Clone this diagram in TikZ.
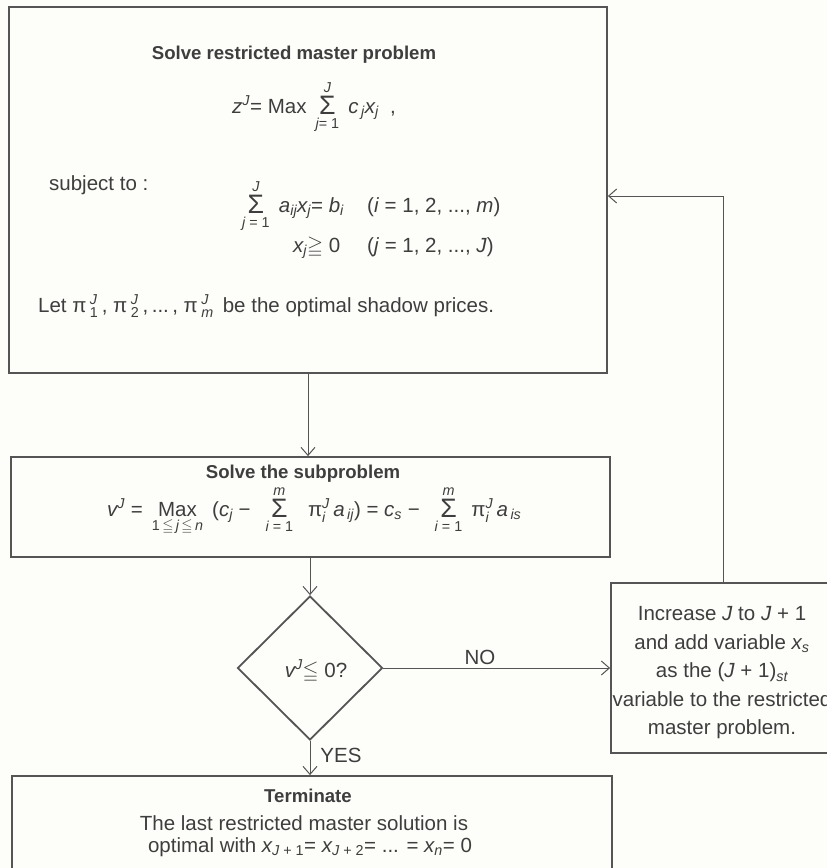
\documentclass[tikz,border=0pt]{standalone}
\usepackage{fontspec}
\setmainfont{Liberation Sans}
\usepackage{amsmath,amssymb,graphicx}
\usetikzlibrary{shapes.geometric,arrows.meta}
\definecolor{ink}{RGB}{62,62,62}
\definecolor{edge}{RGB}{85,85,85}
\definecolor{paper}{RGB}{253,253,250}
\newcommand{\iv}[1]{\text{\itshape #1}}
\newcommand{\tx}[1]{\text{#1}}
\newcommand{\Sm}[2]{\mathop{\raisebox{-1.5pt}{\scalebox{1.3}{Σ}}}\limits_{#1}^{#2}}
\begin{document}
\begin{tikzpicture}[x=1pt,y=-1pt,
  every node/.style={text=ink, inner sep=0pt, font=\fontsize{20.5}{24}\selectfont},
  bold/.style={font=\fontsize{18.6}{22}\selectfont\bfseries},
  box/.style={draw=edge, line width=1.8pt, fill=paper, minimum width=#1},
  arr/.style={draw=edge, line width=1pt, -{Straight Barb[length=8pt,width=14pt]}},
  lbl/.style={anchor=base west}]
\path[use as bounding box, fill=paper] (0,0) rectangle (827,868);
\clip (0,0) rectangle (827,868);
% boxes
\node[box=598, minimum height=366] (tbox) at (308,190) {};
\node[box=599, minimum height=100] (sbox) at (310.5,507) {};
\node[box=224, minimum height=170] (rbox) at (723,668) {};
\node[box=600, minimum height=124] (term) at (312,838) {};
\node[draw=edge, line width=1.8pt, fill=paper, diamond, minimum width=145, minimum height=144] (dia) at (310,668) {};
% top box text
\node[bold] (t1) at (294,55) {Solve restricted master problem};
\node[lbl] (t2) at (232,113) {$\iv{z}^{\iv{J}}\tx{= Max }\Sm{\iv{j}\tx{= 1}}{\iv{J}}\;\iv{c}_{\,\iv{j}}\iv{x}_{\iv{j}}\tx{ \ ,}$};
\node[lbl] (t3) at (49,190) {subject to :};
\node[lbl] (t4) at (242,212) {$\Sm{\iv{j}\tx{ = 1}}{\iv{J}}\;\iv{a}_{\iv{ij}}\iv{x}_{\iv{j}}\tx{= }\iv{b}_{\iv{i}}$};
\node[lbl] (t5) at (367,212) {(\textit{i} = 1, 2, ..., \textit{m})};
\node[lbl] (t6) at (293,252) {$\iv{x}_{\iv{j}}{\geqq}\tx{ 0}$};
\node[lbl] (t7) at (367,252) {(\textit{j} = 1, 2, ..., \textit{J})};
\node[lbl] (t8) at (38,312) {Let $\tx{π\,}_{\tx{1}}^{\iv{J}}\tx{\,, π\,}_{\tx{2}}^{\iv{J}}\tx{\,,\,...\,, π\,}_{\iv{m}}^{\iv{J}}$\, be the optimal shadow prices.};
% subproblem text
\node[bold] (s1) at (303,474) {Solve the subproblem};
\node[lbl] (s2) at (107,516) {$\iv{v}^{\iv{J}}\tx{ = }\mathop{\tx{Max}}\limits_{\tx{1}\,\leqq\,\iv{j}\,\leqq\,\iv{n}}\;\tx{(}\iv{c}_{\iv{j}}\tx{ − }\;\Sm{\iv{i}\tx{ = 1}}{\iv{m}}\;\;\tx{π}^{\iv{J}}_{\iv{i}}\,\iv{a}_{\,\iv{ij}}\tx{) = }\iv{c}_{\iv{s}}\tx{ − }\;\Sm{\iv{i}\tx{ = 1}}{\iv{m}}\;\tx{π}^{\iv{J}}_{\iv{i}}\,\iv{a}_{\,\iv{is}}$};
% diamond text
\node[anchor=base] (dtx) at (316,677) {$\iv{v}^{\iv{J}}{\leqq}\tx{ 0?}$};
% right box text
\node[align=center, font=\fontsize{20.5}{28.5}\selectfont] (rtx) at (722,673) {Increase \textit{J} to \textit{J} + 1\\ and add variable $\iv{x}_{\iv{s}}$\\ as the (\textit{J} + 1)$_{\iv{st}}$\\ variable to the restricted\\ master problem.};
% terminate text
\node[bold] (e1) at (308,796) {Terminate};
\node[anchor=base] (e2) at (304,830) {The last restricted master solution is};
\node[anchor=base] (e3) at (310,852) {optimal with $\iv{x}_{\iv{J}\tx{ + 1}}\tx{= }\iv{x}_{\iv{J}\tx{ + 2}}\tx{= ... = }\iv{x}_{\iv{n}}\tx{= 0}$};
% connectors
\coordinate (fb) at (0,196);
\draw[arr] (tbox.south) -- (tbox.south |- sbox.north);
\draw[arr] (dia.north |- sbox.south) -- (dia.north);
\draw[arr] (dia.south) -- (dia.south |- term.north);
\draw[arr] (dia.east) -- (dia.east -| rbox.west);
\draw[arr] (rbox.north) |- (tbox.east |- fb);
\node (no) at (480,657) {NO};
\node (yes) at (341,755) {YES};
\end{tikzpicture}
\end{document}
